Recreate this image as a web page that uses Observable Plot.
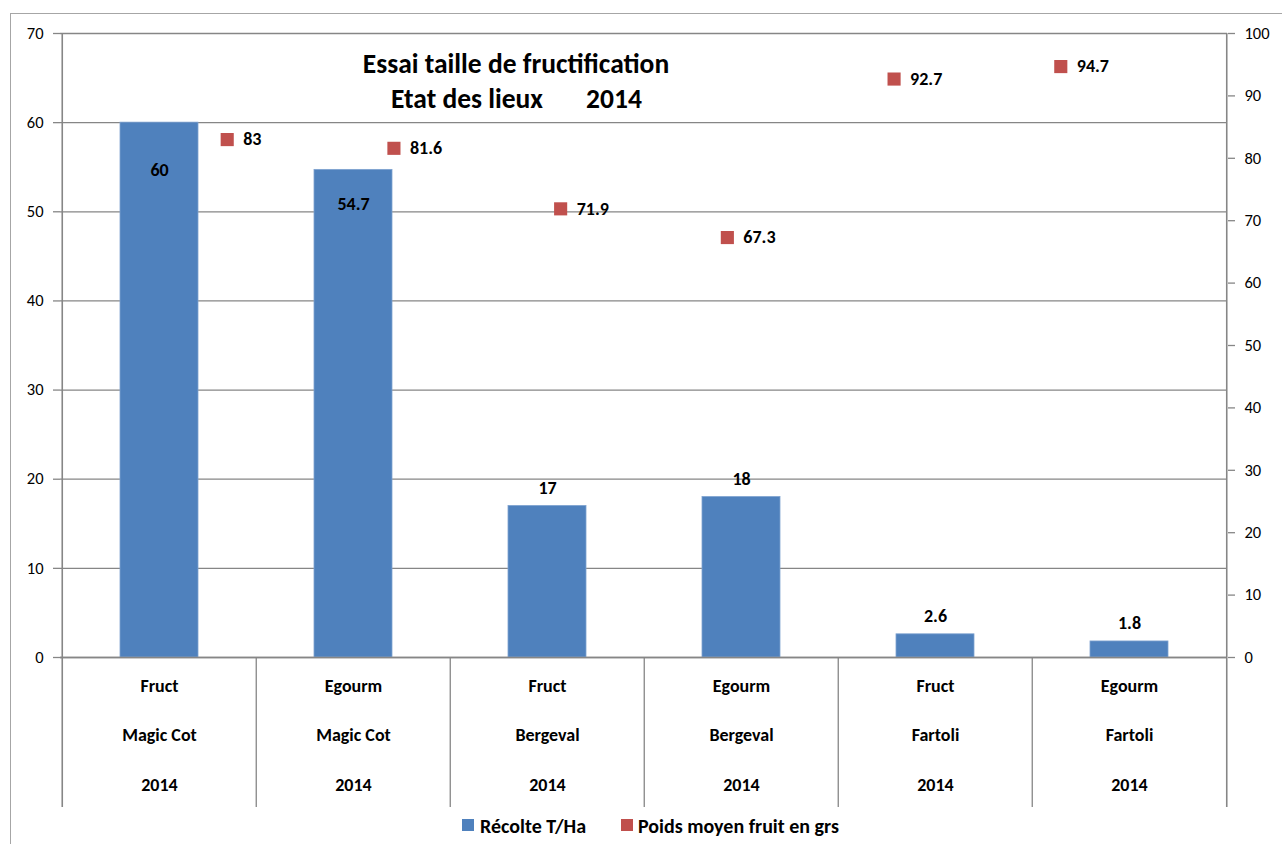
<!DOCTYPE html>
<html>
<head>
<meta charset="utf-8">
<script src="https://cdn.jsdelivr.net/npm/d3@7"></script>
<script src="https://cdn.jsdelivr.net/npm/@observablehq/plot@0.6"></script>
<style>
  html, body { margin: 0; padding: 0; background: #fff; overflow: hidden; width: 1282px; height: 844px; }
  #wrap { position: relative; width: 1282px; height: 844px; font-family: Carlito, Calibri, Lato, sans-serif; color: #000; }
  #border { position: absolute; left: 10px; top: 13px; width: 1400px; height: 1000px; border: 1px solid #a6a6a6; box-sizing: border-box; }
  .layer { position: absolute; left: 0; top: 0; }
  .layer svg { overflow: visible; }
  .t { position: absolute; font-weight: bold; font-size: 27.5px; line-height: 1; white-space: pre; transform: translate(-50%, -50%); }
  .lg { position: absolute; font-weight: bold; font-size: 20px; line-height: 1; white-space: pre; transform: translateY(-50%); }
  .sw { position: absolute; width: 12px; height: 12px; transform: translateY(-50%); }
</style>
</head>
<body>
<div id="wrap">
  <div id="border"></div>
  <div id="p1" class="layer"></div>
  <div id="p2" class="layer"></div>
  <div class="t" style="left:516px; top:64px;">Essai taille de fructification</div>
  <div class="t" style="left:467px; top:99px;">Etat des lieux</div>
  <div class="t" style="left:614px; top:99px;">2014</div>
  <div class="sw" style="left:462px; top:825px; background:#4F81BD;"></div>
  <div class="lg" style="left:480px; top:826px;">Récolte T/Ha</div>
  <div class="sw" style="left:621px; top:825px; background:#C0504D;"></div>
  <div class="lg" style="left:638px; top:826px;">Poids moyen fruit en grs</div>
</div>
<script>
// ---- data ----
const treatments = ["Fruct", "Egourm", "Fruct", "Egourm", "Fruct", "Egourm"];
const varieties  = ["Magic Cot", "Magic Cot", "Bergeval", "Bergeval", "Fartoli", "Fartoli"];
const years      = ["2014", "2014", "2014", "2014", "2014", "2014"];
const recolte    = [60, 54.7, 17, 18, 2.6, 1.8];          // Récolte T/Ha (left axis)
const poids      = [83, 81.6, 71.9, 67.3, 92.7, 94.7];    // Poids moyen fruit en grs (right axis)
const leftTicks  = [0, 10, 20, 30, 40, 50, 60, 70];
const rightTicks = [0, 10, 20, 30, 40, 50, 60, 70, 80, 90, 100];

const categories = treatments.map((t, i) => `${t}|${varieties[i]}|${years[i]}`);
const rows = categories.map((c, i) => ({
  cat: c, treatment: treatments[i], variety: varieties[i], year: years[i],
  recolte: recolte[i], poids: poids[i], slot: i + 1
}));

// ---- layout ----
const W = 1282, H = 810;
const mL = 60, mR = 55, mT = 33, mB = 153;
const frameH = H - mT - mB;
const step = (W - mL - mR) / categories.length;
const tableH = 150;
const GRID = "#868686";
const BLUE = "#4F81BD";
const RED = "#C0504D";
const FONT = "Carlito, Calibri, Lato, sans-serif";

const p1 = Plot.plot({
  width: W, height: H,
  marginLeft: mL, marginRight: mR, marginTop: mT, marginBottom: mB,
  style: { fontFamily: FONT, fontSize: "16px", color: "#000", background: "transparent", overflow: "visible" },
  x: { domain: categories, paddingInner: 0.6, paddingOuter: 0.3, axis: null },
  y: { domain: [0, 70], axis: null },
  marks: [
    Plot.gridY(leftTicks, { stroke: GRID, strokeOpacity: 1, strokeWidth: 1.3 }),
    Plot.axisY(leftTicks, { anchor: "left", tickSize: 7, tickPadding: 10, stroke: GRID, strokeWidth: 1.3, label: null, fontSize: 16.5 }),
    Plot.barY(rows, { x: "cat", y: "recolte", fill: BLUE, stroke: "#7ea2d0", strokeWidth: 0.8 }),
    Plot.ruleY([0], { stroke: GRID, strokeWidth: 1.6 }),
    // category table separators
    Plot.ruleX(categories.slice(1), { dx: -step / 2, stroke: GRID, strokeWidth: 1.3, insetTop: frameH, insetBottom: -tableH }),
    Plot.ruleX(categories.slice(0, 1), { dx: -step / 2, stroke: GRID, strokeWidth: 1.6, insetBottom: -tableH }),
    Plot.ruleX(categories.slice(-1), { dx: step / 2, stroke: GRID, strokeWidth: 1.6, insetBottom: -tableH }),
    // category labels (three rows)
    Plot.text(rows, { x: "cat", text: "treatment", frameAnchor: "bottom", dy: 34, fontWeight: "bold", fontSize: 18 }),
    Plot.text(rows, { x: "cat", text: "variety", frameAnchor: "bottom", dy: 83, fontWeight: "bold", fontSize: 18 }),
    Plot.text(rows, { x: "cat", text: "year", frameAnchor: "bottom", dy: 133, fontWeight: "bold", fontSize: 18 }),
    // bar value labels
    Plot.text(rows.slice(0, 1), { x: "cat", y: "recolte", text: d => String(d.recolte), dy: 48, fontWeight: "bold", fontSize: 18 }),
    Plot.text(rows.slice(1, 2), { x: "cat", y: "recolte", text: d => String(d.recolte), dy: 34, fontWeight: "bold", fontSize: 18 }),
    Plot.text(rows.slice(2), { x: "cat", y: "recolte", text: d => String(d.recolte), dy: -18, fontWeight: "bold", fontSize: 18 })
  ]
});
document.getElementById("p1").appendChild(p1);

const p2 = Plot.plot({
  width: W, height: H,
  marginLeft: mL, marginRight: mR, marginTop: mT, marginBottom: mB,
  style: { fontFamily: FONT, fontSize: "16px", color: "#000", background: "transparent", overflow: "visible" },
  x: { domain: [0, categories.length + 1], axis: null },
  y: { domain: [0, 100], axis: null },
  marks: [
    Plot.axisY(rightTicks, { anchor: "right", tickSize: 7, tickPadding: 10, stroke: GRID, strokeWidth: 1.3, label: null, fontSize: 16.5 }),
    Plot.dot(rows, { x: "slot", y: "poids", symbol: "square", r: 7.4, fill: RED, stroke: "none" }),
    Plot.text(rows, { x: "slot", y: "poids", text: d => String(d.poids), dx: 16, textAnchor: "start", fontWeight: "bold", fontSize: 18 })
  ]
});
document.getElementById("p2").appendChild(p2);
</script>
</body>
</html>
